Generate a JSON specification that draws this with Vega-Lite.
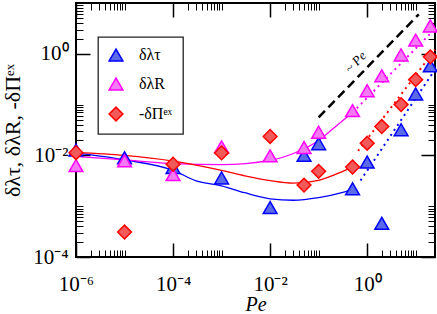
{
  "$schema": "https://vega.github.io/schema/vega-lite/v6.json",
  "autosize": {"type": "none"},
  "padding": {"left": 76, "top": 3, "right": 2, "bottom": 57},
  "width": 359,
  "height": 254,
  "background": "white",
  "config": {
    "view": {"stroke": "black", "strokeWidth": 2},
    "font": "Liberation Serif",
    "axis": {"domain": false, "grid": false, "tickColor": "black", "labelColor": "black", "titleColor": "black", "labelFont": "Liberation Serif", "titleFont": "Liberation Serif", "labelFlush": false, "labelOverlap": false, "titleFontWeight": "normal"},
    "legend": {"strokeColor": "#222222", "fillColor": "white", "strokeWidth": 1.3}
  },
  "datasets": {
    "points": [
      {"s": "δλτ", "pe": 1e-6, "val": 0.0127},
      {"s": "δλτ", "pe": 1e-5, "val": 0.009},
      {"s": "δλτ", "pe": 1e-4, "val": 0.0058},
      {"s": "δλτ", "pe": 1e-3, "val": 0.0036},
      {"s": "δλτ", "pe": 1e-2, "val": 0.00094},
      {"s": "δλτ", "pe": 0.05, "val": 0.0100},
      {"s": "δλτ", "pe": 0.1, "val": 0.017},
      {"s": "δλτ", "pe": 0.5, "val": 0.0022},
      {"s": "δλτ", "pe": 1, "val": 0.0074},
      {"s": "δλτ", "pe": 2, "val": 0.00046},
      {"s": "δλτ", "pe": 5, "val": 0.032},
      {"s": "δλτ", "pe": 10, "val": 0.162},
      {"s": "δλτ", "pe": 20, "val": 0.58},
      {"s": "δλR", "pe": 1e-6, "val": 0.0063},
      {"s": "δλR", "pe": 1e-5, "val": 0.0078},
      {"s": "δλR", "pe": 1e-4, "val": 0.0042},
      {"s": "δλR", "pe": 1e-3, "val": 0.0147},
      {"s": "δλR", "pe": 1e-2, "val": 0.0098},
      {"s": "δλR", "pe": 0.05, "val": 0.0143},
      {"s": "δλR", "pe": 0.1, "val": 0.0286},
      {"s": "δλR", "pe": 0.5, "val": 0.076},
      {"s": "δλR", "pe": 1, "val": 0.188},
      {"s": "δλR", "pe": 2, "val": 0.37},
      {"s": "δλR", "pe": 5, "val": 0.95},
      {"s": "δλR", "pe": 10, "val": 1.86},
      {"s": "δλR", "pe": 20, "val": 3.54},
      {"s": "-δΠᵉˣ", "pe": 1e-6, "val": 0.0113},
      {"s": "-δΠᵉˣ", "pe": 1e-5, "val": 0.00031},
      {"s": "-δΠᵉˣ", "pe": 1e-4, "val": 0.0067},
      {"s": "-δΠᵉˣ", "pe": 1e-3, "val": 0.0112},
      {"s": "-δΠᵉˣ", "pe": 1e-2, "val": 0.0236},
      {"s": "-δΠᵉˣ", "pe": 0.05, "val": 0.0026},
      {"s": "-δΠᵉˣ", "pe": 0.1, "val": 0.00485},
      {"s": "-δΠᵉˣ", "pe": 0.5, "val": 0.0059},
      {"s": "-δΠᵉˣ", "pe": 1, "val": 0.0174},
      {"s": "-δΠᵉˣ", "pe": 2, "val": 0.037},
      {"s": "-δΠᵉˣ", "pe": 5, "val": 0.1},
      {"s": "-δΠᵉˣ", "pe": 10, "val": 0.31},
      {"s": "-δΠᵉˣ", "pe": 20, "val": 0.87}
    ],
    "fits": [
      {"s": "δλτ", "pe": 1e-6, "val": 0.0112},
      {"s": "δλτ", "pe": 1e-5, "val": 0.00817},
      {"s": "δλτ", "pe": 1e-4, "val": 0.00508},
      {"s": "δλτ", "pe": 3e-4, "val": 0.00316},
      {"s": "δλτ", "pe": 1e-3, "val": 0.00252},
      {"s": "δλτ", "pe": 3e-3, "val": 0.00184},
      {"s": "δλτ", "pe": 1e-2, "val": 0.0014},
      {"s": "δλτ", "pe": 3e-2, "val": 0.00131},
      {"s": "δλτ", "pe": 0.1, "val": 0.00147},
      {"s": "δλτ", "pe": 0.3, "val": 0.00184},
      {"s": "δλτ", "pe": 0.5, "val": 0.00215},
      {"s": "δλR", "pe": 1e-6, "val": 0.00955},
      {"s": "δλR", "pe": 1e-5, "val": 0.00817},
      {"s": "δλR", "pe": 1e-4, "val": 0.00688},
      {"s": "δλR", "pe": 1e-3, "val": 0.00657},
      {"s": "δλR", "pe": 1e-2, "val": 0.00798},
      {"s": "δλR", "pe": 3e-2, "val": 0.0109},
      {"s": "δλR", "pe": 0.1, "val": 0.0197},
      {"s": "δλR", "pe": 0.2, "val": 0.0338},
      {"s": "δλR", "pe": 0.5, "val": 0.0697},
      {"s": "-δΠᵉˣ", "pe": 1e-6, "val": 0.01145},
      {"s": "-δΠᵉˣ", "pe": 1e-5, "val": 0.01},
      {"s": "-δΠᵉˣ", "pe": 1e-4, "val": 0.00773},
      {"s": "-δΠᵉˣ", "pe": 1e-3, "val": 0.00508},
      {"s": "-δΠᵉˣ", "pe": 3e-3, "val": 0.00397},
      {"s": "-δΠᵉˣ", "pe": 1e-2, "val": 0.00319},
      {"s": "-δΠᵉˣ", "pe": 3e-2, "val": 0.00285},
      {"s": "-δΠᵉˣ", "pe": 0.1, "val": 0.00324},
      {"s": "-δΠᵉˣ", "pe": 0.3, "val": 0.00475},
      {"s": "-δΠᵉˣ", "pe": 0.5, "val": 0.00595}
    ],
    "extrap": [
      {"s": "δλτ", "pe": 0.73, "val": 0.0032},
      {"s": "δλτ", "pe": 25, "val": 0.49},
      {"s": "δλR", "pe": 0.5, "val": 0.0697},
      {"s": "δλR", "pe": 25, "val": 3.1},
      {"s": "-δΠᵉˣ", "pe": 0.65, "val": 0.0122},
      {"s": "-δΠᵉˣ", "pe": 25, "val": 1.2}
    ],
    "guide": [
      {"pe": 0.1, "val": 0.056},
      {"pe": 11.6, "val": 6.0}
    ],
    "note": [
      {"pe": 0.58, "val": 0.68, "label": "~ Pe"}
    ]
  },
  "resolve": {"axis": {"x": "independent", "y": "independent"}},
  "layer": [
    {
      "data": {"name": "fits"},
      "mark": {"type": "line", "strokeWidth": 1.3, "interpolate": "monotone"},
      "encoding": {
        "x": {"field": "pe", "type": "quantitative", "scale": {"type": "log", "domain": [1e-6, 25], "nice": false},
              "axis": {"orient": "bottom", "values": [2e-6,3e-6,4e-6,5e-6,6e-6,7e-6,8e-6,9e-6,1e-5,2e-4,3e-4,4e-4,5e-4,6e-4,7e-4,8e-4,9e-4,1e-3,0.02,0.03,0.04,0.05,0.06,0.07,0.08,0.09,0.1,2,3,4,5,6,7,8,9,10], "tickSize": -7, "tickWidth": 1, "labels": false, "title": null}},
        "y": {"field": "val", "type": "quantitative", "scale": {"type": "log", "domain": [1e-4, 10], "nice": false},
              "axis": {"orient": "left", "values": [2e-4,3e-4,4e-4,5e-4,6e-4,7e-4,8e-4,9e-4,1e-3,0.02,0.03,0.04,0.05,0.06,0.07,0.08,0.09,0.1,2,3,4,5,6,7,8,9], "tickSize": -7, "tickWidth": 1, "labels": false, "title": null}},
        "color": {"field": "s", "type": "nominal", "scale": {"domain": ["-δΠᵉˣ", "δλR", "δλτ"], "range": ["#ff0000", "#ff00ff", "#0000ff"]}, "legend": null}
      }
    },
    {
      "data": {"name": "extrap"},
      "mark": {"type": "line", "strokeWidth": 2, "strokeDash": [2, 4]},
      "encoding": {
        "x": {"field": "pe", "type": "quantitative",
              "axis": {"orient": "top", "values": [1e-6, 1e-4, 0.01, 1], "tickSize": -14, "tickWidth": 1.5, "labels": false, "title": null}},
        "y": {"field": "val", "type": "quantitative",
              "axis": {"orient": "right", "values": [1e-4, 0.01, 1], "tickSize": -14, "tickWidth": 1.5, "labels": false, "title": null}},
        "color": {"field": "s", "type": "nominal", "legend": null}
      }
    },
    {
      "data": {"name": "guide"},
      "mark": {"type": "line", "stroke": "black", "strokeWidth": 2.5, "strokeDash": [9, 5]},
      "encoding": {
        "x": {"field": "pe", "type": "quantitative",
              "axis": {"orient": "top", "values": [2e-6,3e-6,4e-6,5e-6,6e-6,7e-6,8e-6,9e-6,1e-5,2e-4,3e-4,4e-4,5e-4,6e-4,7e-4,8e-4,9e-4,1e-3,0.02,0.03,0.04,0.05,0.06,0.07,0.08,0.09,0.1,2,3,4,5,6,7,8,9,10], "tickSize": -7, "tickWidth": 1, "labels": false, "title": null}},
        "y": {"field": "val", "type": "quantitative",
              "axis": {"orient": "right", "values": [2e-4,3e-4,4e-4,5e-4,6e-4,7e-4,8e-4,9e-4,1e-3,0.02,0.03,0.04,0.05,0.06,0.07,0.08,0.09,0.1,2,3,4,5,6,7,8,9], "tickSize": -7, "tickWidth": 1, "labels": false, "title": null}}
      }
    },
    {
      "data": {"name": "points"},
      "mark": {"type": "point", "filled": true, "opacity": 1, "size": 190, "strokeWidth": 1.5},
      "encoding": {
        "x": {"field": "pe", "type": "quantitative",
              "axis": {"orient": "bottom", "values": [1e-6, 1e-4, 0.01, 1], "tickSize": -14, "tickWidth": 1.5, "labelPadding": 30, "labelFontSize": 21,
                       "labelExpr": "datum.value < 5e-6 ? '10⁻⁶' : datum.value < 5e-4 ? '10⁻⁴' : datum.value < 0.05 ? '10⁻²' : '10⁰'",
                       "title": "Pe", "titleFontSize": 20, "titleFontStyle": "italic", "titlePadding": 0}},
        "y": {"field": "val", "type": "quantitative",
              "axis": {"orient": "left", "values": [1e-4, 0.01, 1], "tickSize": -14, "tickWidth": 1.5, "labelPadding": 22, "labelFontSize": 21,
                       "labelExpr": "datum.value < 5e-4 ? '10⁻⁴' : datum.value < 0.05 ? '10⁻²' : '10⁰'",
                       "title": "δλτ, δλR, -δΠᵉˣ", "titleFontSize": 22, "titlePadding": 8}},
        "shape": {"field": "s", "type": "nominal", "scale": {"domain": ["δλτ", "δλR", "-δΠᵉˣ"], "range": ["triangle-up", "triangle-up", "diamond"]},
                  "legend": {"title": null, "orient": "none", "legendX": 22, "legendY": 34, "padding": 10, "rowPadding": 11, "symbolSize": 190, "symbolStrokeWidth": 1.5, "labelFont": "Liberation Serif", "labelFontSize": 16, "labelColor": "black", "labelOffset": 15}},
        "fill": {"field": "s", "type": "nominal", "scale": {"domain": ["δλτ", "δλR", "-δΠᵉˣ"], "range": ["#5b6ae6", "#f57af5", "#f25a5a"]},
                 "legend": {"title": null, "orient": "none", "legendX": 22, "legendY": 34, "padding": 10, "rowPadding": 11, "symbolSize": 190, "symbolStrokeWidth": 1.5, "labelFont": "Liberation Serif", "labelFontSize": 16, "labelColor": "black", "labelOffset": 15}},
        "stroke": {"field": "s", "type": "nominal", "scale": {"domain": ["δλτ", "δλR", "-δΠᵉˣ"], "range": ["#0000ff", "#ff00ff", "#ff0000"]},
                   "legend": {"title": null, "orient": "none", "legendX": 22, "legendY": 34, "padding": 10, "rowPadding": 11, "symbolSize": 190, "symbolStrokeWidth": 1.5, "labelFont": "Liberation Serif", "labelFontSize": 16, "labelColor": "black", "labelOffset": 15}}
      }
    },
    {
      "data": {"name": "note"},
      "mark": {"type": "text", "angle": 314, "font": "Liberation Serif", "fontStyle": "italic", "fontSize": 13, "color": "black"},
      "encoding": {
        "x": {"field": "pe", "type": "quantitative", "axis": null},
        "y": {"field": "val", "type": "quantitative", "axis": null},
        "text": {"field": "label"}
      }
    }
  ]
}
